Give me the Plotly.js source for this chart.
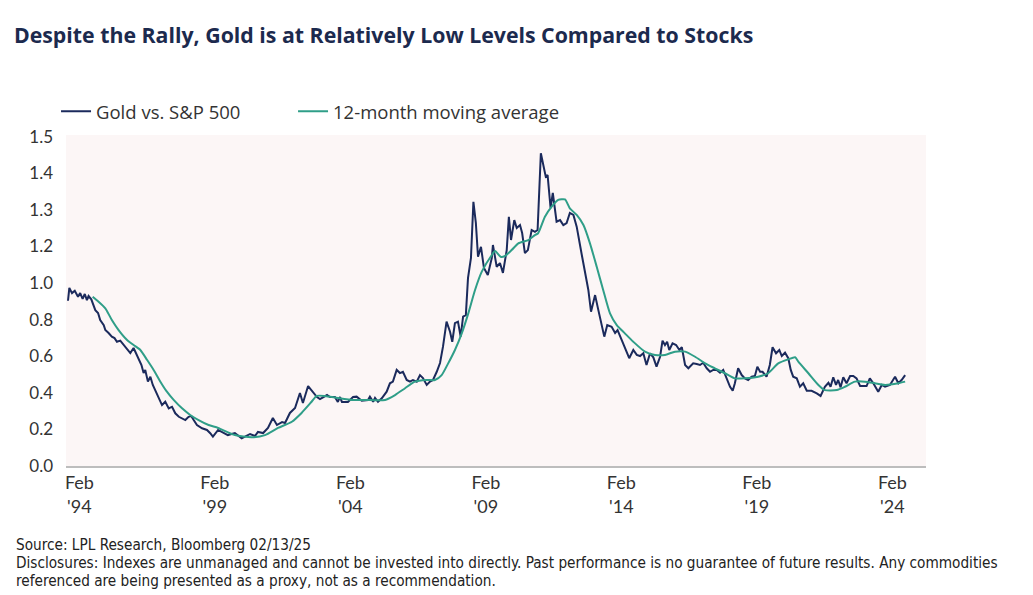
<!DOCTYPE html>
<html>
<head>
<meta charset="utf-8">
<script src="https://cdn.plot.ly/plotly-3.0.1.min.js"></script>
<style>
html,body{margin:0;padding:0;background:#fff;}
#chart{width:1033px;height:595px;}
</style>
</head>
<body>
<div id="chart"></div>
<script>
// Gold vs. S&P 500 ratio (decimal years, axis units where tick labels are placed)
const goldYears = [
1994.08,1994.13,1994.23,1994.33,1994.45,1994.53,1994.62,1994.70,1994.78,1994.84,1994.94,1995.03,1995.09,1995.19,1995.27,1995.40,1995.46,1995.58,1995.70,1995.80,1995.89,1996.01,1996.14,1996.26,1996.38,1996.50,1996.59,1996.69,1996.79,1996.87,1996.93,1997.03,1997.12,1997.21,1997.30,1997.43,1997.55,1997.67,1997.80,1997.92,1998.04,1998.17,1998.29,1998.41,1998.53,1998.63,1998.72,1998.84,1999.03,1999.21,1999.33,
1999.43,1999.62,1999.75,1999.98,2000.24,2000.49,2000.61,2000.80,2000.98,2001.09,2001.28,2001.46,2001.64,2001.79,2001.98,2002.09,2002.27,2002.46,2002.64,2002.75,2002.94,2003.12,2003.27,2003.38,2003.49,2003.64,2003.75,2003.93,2004.04,2004.12,2004.19,2004.41,2004.60,
2004.73,2004.92,2005.15,2005.22,2005.34,2005.41,2005.52,2005.66,2005.84,2005.96,2006.07,2006.21,2006.33,2006.44,2006.58,2006.70,2006.81,2006.95,2007.07,2007.18,2007.32,2007.44,2007.55,2007.69,2007.81,2007.92,2008.05,2008.18,2008.26,2008.36,2008.47,2008.57,2008.66,2008.76,2008.84,2008.95,2009.04,2009.13,2009.21,2009.32,2009.43,2009.57,2009.72,
2009.76,2009.90,2010.02,2010.13,2010.27,2010.35,2010.43,2010.55,2010.64,2010.76,2010.84,2010.94,2011.05,2011.19,2011.31,2011.41,2011.53,2011.62,2011.71,2011.78,2011.83,2011.89,2011.97,2012.05,2012.11,2012.24,2012.36,2012.48,2012.60,2012.73,2012.85,2013.04,2013.16,2013.28,2013.38,2013.53,2013.65,2013.77,2013.87,2013.98,2014.14,2014.27,2014.36,2014.51,2014.70,2014.79,
2014.94,2015.07,2015.19,2015.31,2015.43,2015.56,2015.68,2015.80,2015.93,2016.02,2016.11,2016.19,2016.27,2016.39,2016.52,2016.64,2016.73,2016.85,2016.97,2017.15,2017.28,2017.40,2017.52,2017.65,2017.77,2017.89,2018.02,2018.14,2018.26,2018.39,2018.51,2018.61,2018.69,2018.81,2018.94,2019.06,2019.18,2019.31,2019.43,2019.52,2019.62,2019.71,2019.86,2019.98,2020.08,2020.21,2020.33,2020.42,2020.54,2020.66,2020.75,2020.84,2020.97,2021.09,2021.21,2021.34,2021.52,2021.71,2021.85,2022.01,2022.14,2022.22,2022.32,2022.42,2022.50,2022.59,2022.69,2022.81,2022.94,2023.06,2023.18,2023.31,2023.55,2023.67,2023.80,2023.98,2024.11,2024.23,2024.41,2024.60,2024.72,2024.84,2024.97
];
const goldRatio = [
0.903,0.973,0.945,0.958,0.925,0.945,0.913,0.940,0.907,0.929,0.911,0.874,0.852,0.836,0.798,0.770,0.743,0.727,0.707,0.699,0.679,0.685,0.661,0.645,0.617,0.645,0.617,0.579,0.552,0.508,0.525,0.461,0.488,0.443,0.415,0.379,0.333,0.351,0.315,0.324,0.288,0.269,0.261,0.251,0.269,0.273,0.251,0.224,0.206,0.197,0.179,
0.160,0.197,0.187,0.169,0.180,0.151,0.160,0.175,0.164,0.186,0.180,0.208,0.262,0.224,0.240,0.235,0.290,0.317,0.399,0.344,0.437,0.404,0.377,0.366,0.377,0.388,0.377,0.377,0.350,0.377,0.350,0.350,0.377,
0.379,0.357,0.361,0.379,0.351,0.372,0.351,0.370,0.406,0.452,0.461,0.525,0.508,0.515,0.470,0.461,0.470,0.461,0.497,0.481,0.443,0.461,0.470,0.515,0.563,0.652,0.789,0.734,0.679,0.781,0.789,0.707,0.816,0.825,1.027,1.137,1.444,1.328,1.144,1.198,1.082,1.044,1.137,
1.208,1.089,1.109,1.055,1.180,1.362,1.235,1.344,1.301,1.317,1.273,1.164,1.180,1.290,1.280,1.290,1.709,1.645,1.581,1.590,1.508,1.410,1.492,1.383,1.335,1.344,1.317,1.328,1.383,1.372,1.308,1.153,1.055,0.962,0.843,0.934,0.852,0.781,0.707,0.770,0.761,0.727,0.743,0.689,0.616,0.589,
0.634,0.607,0.601,0.616,0.552,0.616,0.594,0.543,0.597,0.685,0.661,0.679,0.634,0.670,0.661,0.634,0.649,0.552,0.534,0.561,0.557,0.552,0.564,0.534,0.515,0.525,0.525,0.510,0.525,0.479,0.433,0.411,0.452,0.534,0.497,0.479,0.470,0.488,0.492,0.543,0.515,0.515,0.488,0.552,0.649,0.616,0.634,0.601,0.619,0.589,0.525,0.488,0.479,0.433,0.452,0.411,0.411,0.397,0.383,0.433,0.455,0.433,0.485,0.443,0.470,0.430,0.485,0.452,0.492,0.492,0.479,0.437,0.437,0.479,0.452,0.406,0.443,0.433,0.443,0.488,0.452,0.470,0.497
];
// 12-month moving average
const maYears = [
1994.99,1995.21,1995.46,1995.70,1995.95,1996.26,1996.50,1996.75,1997.00,1997.24,1997.49,1997.73,1997.98,1998.29,1998.59,1998.90,1999.27,1999.62,2000.24,2000.86,2001.35,2001.83,2002.34,2002.70,2003.07,2003.26,2003.56,2004.04,2004.60,2005.04,2005.78,2006.15,2006.52,2006.88,2007.32,2007.62,2007.87,2008.11,2008.36,2008.61,2008.85,2009.10,2009.35,2009.72,2009.84,2010.06,2010.21,2010.45,2010.70,2011.07,2011.31,2011.43,2011.68,2011.93,2012.17,2012.42,2012.60,2012.85,2013.10,2013.34,2013.59,2013.83,2014.08,2014.33,2014.63,2014.94,2015.37,2015.74,2016.11,2016.48,2016.85,2017.22,2017.59,2017.95,2018.32,2018.69,2019.06,2019.55,2019.92,2020.29,2020.66,2020.91,2021.03,2021.40,2021.77,2022.01,2022.45,2022.75,2023.12,2023.49,2023.86,2024.23,2024.72,2024.97
];
const maRatio = [
0.925,0.898,0.862,0.798,0.743,0.689,0.661,0.634,0.579,0.525,0.461,0.406,0.361,0.315,0.279,0.251,0.224,0.208,0.169,0.157,0.169,0.208,0.242,0.290,0.351,0.383,0.383,0.372,0.361,0.361,0.361,0.388,0.425,0.461,0.470,0.470,0.497,0.561,0.634,0.725,0.834,0.962,1.062,1.153,1.175,1.142,1.148,1.180,1.217,1.235,1.262,1.272,1.362,1.417,1.454,1.457,1.408,1.372,1.317,1.217,1.089,0.962,0.834,0.770,0.725,0.679,0.625,0.607,0.607,0.625,0.625,0.597,0.561,0.534,0.507,0.479,0.479,0.488,0.507,0.561,0.583,0.594,0.570,0.507,0.443,0.415,0.415,0.433,0.461,0.461,0.452,0.443,0.452,0.461
];
const yTickVals = [0,0.2,0.4,0.6,0.8,1.0,1.2,1.4,1.6,1.8];
const yTickText = ["0.0","0.2","0.4","0.6","0.8","1.0","1.2","1.3","1.4","1.5"];
const xTickYears = [1994,1999,2004,2009,2014,2019,2024];
const xTickText = ["Feb<br>'94","Feb<br>'99","Feb<br>'04","Feb<br>'09","Feb<br>'14","Feb<br>'19","Feb<br>'24"];

function toDate(y){
  const yr = Math.floor(y);
  const start = Date.UTC(yr,0,1), end = Date.UTC(yr+1,0,1);
  return new Date(start + (y-yr)*(end-start)).toISOString().slice(0,10);
}

const traces = [
  {x: goldYears.map(toDate), y: goldRatio, type:'scatter', mode:'lines', name:'Gold vs. S&P 500',
   line:{color:'#1b2a5c', width:2}, legend:'legend'},
  {x: maYears.map(toDate), y: maRatio, type:'scatter', mode:'lines', name:'12-month moving average',
   line:{color:'#2f9e88', width:2, shape:'spline', smoothing:0.6}, legend:'legend2'}
];

const legendFont = {family:'"Open Sans", sans-serif', size:18.5, color:'#333333'};
const layout = {
  width:1033, height:595,
  margin:{l:66, r:107, t:135, b:129},
  paper_bgcolor:'#ffffff', plot_bgcolor:'#fcf6f6',
  font:{family:'Lato, "Open Sans", sans-serif', color:'#333333'},
  title:{text:'<b>Despite the Rally, Gold is at Relatively Low Levels Compared to Stocks</b>',
    xref:'container', yref:'container', x:0.0135, xanchor:'left', y:0.94, yanchor:'middle',
    font:{family:'"Open Sans", sans-serif', size:21.3, color:'#1c2a4e'}},
  showlegend:true,
  legend:{orientation:'h', x:-0.0116, xanchor:'left', y:1.07, yanchor:'middle',
    font:legendFont, bgcolor:'rgba(0,0,0,0)', itemwidth:30},
  legend2:{orientation:'h', x:0.264, xanchor:'left', y:1.07, yanchor:'middle',
    font:legendFont, bgcolor:'rgba(0,0,0,0)', itemwidth:30},
  xaxis:{type:'date', range:[toDate(1994.006), toDate(2025.74)],
    tickvals: xTickYears.map(y=>toDate(y+0.5)), ticktext:xTickText,
    showgrid:false, zeroline:false, showline:true, linecolor:'#bdbdbd', linewidth:1.5,
    ticks:'', tickfont:{size:18, color:'#333333'}, ticklabelstandoff:0},
  yaxis:{range:[0,1.809], tickvals:yTickVals, ticktext:yTickText,
    showgrid:false, zeroline:false, showline:false, ticks:'',
    tickfont:{size:17, color:'#333333'}, ticklabelstandoff:12},
  annotations:[
    {xref:'paper', yref:'paper', x:-0.0605, y:-0.2387, xanchor:'left', yanchor:'middle', showarrow:false,
     align:'left', text:'Source: LPL Research, Bloomberg 02/13/25',
     font:{family:'"Liberation Sans Narrow", "DejaVu Sans Condensed", sans-serif', size:15.2, color:'#222222'}},
    {xref:'paper', yref:'paper', x:-0.0605, y:-0.2931, xanchor:'left', yanchor:'middle', showarrow:false,
     align:'left', text:'Disclosures: Indexes are unmanaged and cannot be invested into directly. Past performance is no guarantee of future results. Any commodities',
     font:{family:'"Liberation Sans Narrow", "DejaVu Sans Condensed", sans-serif', size:15.2, color:'#222222'}},
    {xref:'paper', yref:'paper', x:-0.0605, y:-0.3474, xanchor:'left', yanchor:'middle', showarrow:false,
     align:'left', text:'referenced are being presented as a proxy, not as a recommendation.',
     font:{family:'"Liberation Sans Narrow", "DejaVu Sans Condensed", sans-serif', size:15.2, color:'#222222'}}
  ]
};

Plotly.newPlot('chart', traces, layout, {displayModeBar:false, responsive:false});
</script>
</body>
</html>
